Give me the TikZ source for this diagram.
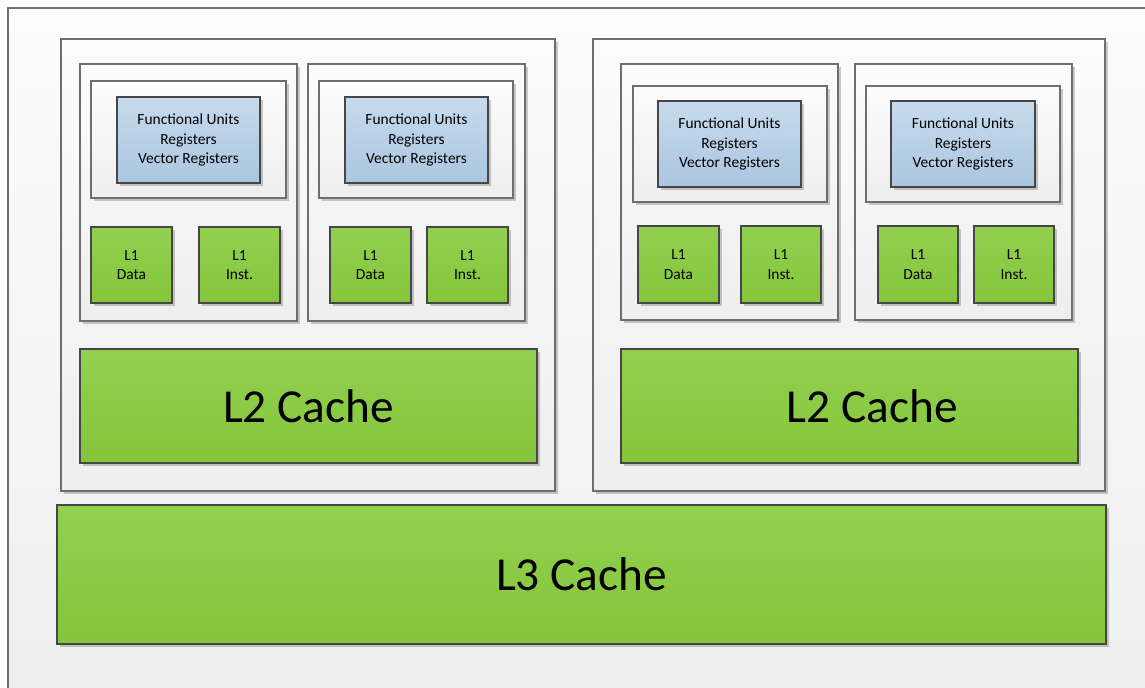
\documentclass[tikz,border=0pt]{standalone}
\usepackage{fontspec}
\setmainfont{Carlito}
\usetikzlibrary{shadows}
\definecolor{paneltop}{RGB}{252,252,252}
\definecolor{panelbot}{RGB}{238,238,238}
\definecolor{greentop}{RGB}{146,208,80}
\definecolor{greenbot}{RGB}{133,197,58}
\definecolor{bluetop}{RGB}{198,218,236}
\definecolor{bluebot}{RGB}{171,198,224}
\definecolor{panelline}{RGB}{110,110,110}
\definecolor{cacheline}{RGB}{70,70,70}
\tikzset{
  shade box/.style={inner sep=0pt, outer sep=0pt, align=center, line width=0.8pt,
    drop shadow={shadow xshift=2pt, shadow yshift=-2pt, opacity=0.2, fill=black}},
  panel/.style={shade box, draw=panelline, top color=paneltop, bottom color=panelbot},
  regs/.style={shade box, draw=cacheline, top color=bluetop, bottom color=bluebot,
    font=\fontsize{11.6}{14.4}\selectfont},
  lone/.style={shade box, draw=cacheline, top color=greentop, bottom color=greenbot,
    font=\fontsize{11.6}{14.8}\selectfont},
  cache/.style={shade box, draw=cacheline, top color=greentop, bottom color=greenbot,
    font=\fontsize{35.5}{40}\selectfont},
}
% box from corner (x1,y1) to corner (x2,y2), in pixels of the page
\newcommand{\unitbox}[7]{%
  \pgfmathsetmacro{\unitw}{(#5-#3)*0.75}%
  \pgfmathsetmacro{\unith}{(#6-#4)*0.75}%
  \node[#2, minimum width=\unitw pt, minimum height=\unith pt] (#1) at ({(#3+#5)/2},{(#4+#6)/2}) {#7};
}

\begin{document}
\begin{tikzpicture}[x=0.75pt,y=-0.75pt]
  \useasboundingbox[fill=white] (0,0) rectangle (1145,688);

  % chip frame, runs off the page on the right and at the bottom
  \unitbox{chip}{panel}{8}{8}{1175}{715}{}

  % the two sockets
  \unitbox{sockA}{panel}{61}{39}{555}{491}{}
  \unitbox{sockB}{panel}{593}{39}{1105}{491}{}

  % cores of socket A
  \unitbox{coreA1}{panel}{80}{64}{297}{321}{}
  \unitbox{execA1}{panel}{91}{81}{286}{198}{}
  \unitbox{regA1}{regs}{117}{97}{260}{183}{Functional Units\\Registers\\Vector Registers}
  \unitbox{dataA1}{lone}{91}{227}{172}{303}{L1\\Data}
  \unitbox{instA1}{lone}{199}{227}{280}{303}{L1\\Inst.}

  \unitbox{coreA2}{panel}{308}{64}{525}{321}{}
  \unitbox{execA2}{panel}{319}{81}{513}{198}{}
  \unitbox{regA2}{regs}{345}{97}{488}{183}{Functional Units\\Registers\\Vector Registers}
  \unitbox{dataA2}{lone}{330}{227}{411}{303}{L1\\Data}
  \unitbox{instA2}{lone}{427}{227}{508}{303}{L1\\Inst.}

  % cores of socket B
  \unitbox{coreB1}{panel}{621}{64}{838}{320}{}
  \unitbox{execB1}{panel}{633}{86}{827}{202}{}
  \unitbox{regB1}{regs}{658}{101}{801}{187}{Functional Units\\Registers\\Vector Registers}
  \unitbox{dataB1}{lone}{638}{226}{719}{303}{L1\\Data}
  \unitbox{instB1}{lone}{741}{226}{821}{303}{L1\\Inst.}

  \unitbox{coreB2}{panel}{855}{64}{1072}{320}{}
  \unitbox{execB2}{panel}{866}{86}{1060}{202}{}
  \unitbox{regB2}{regs}{891}{101}{1035}{187}{Functional Units\\Registers\\Vector Registers}
  \unitbox{dataB2}{lone}{878}{226}{958}{303}{L1\\Data}
  \unitbox{instB2}{lone}{974}{226}{1054}{303}{L1\\Inst.}

  % shared caches (text of the second L2 sits a bit right of centre)
  \unitbox{ltwoA}{cache}{80}{349}{537}{463}{L2 Cache}
  \unitbox{ltwoB}{cache}{621}{349}{1078}{463}{\hspace*{34pt}L2 Cache}
  \unitbox{lthree}{cache}{57}{505}{1106}{644}{L3 Cache}
\end{tikzpicture}
\end{document}
